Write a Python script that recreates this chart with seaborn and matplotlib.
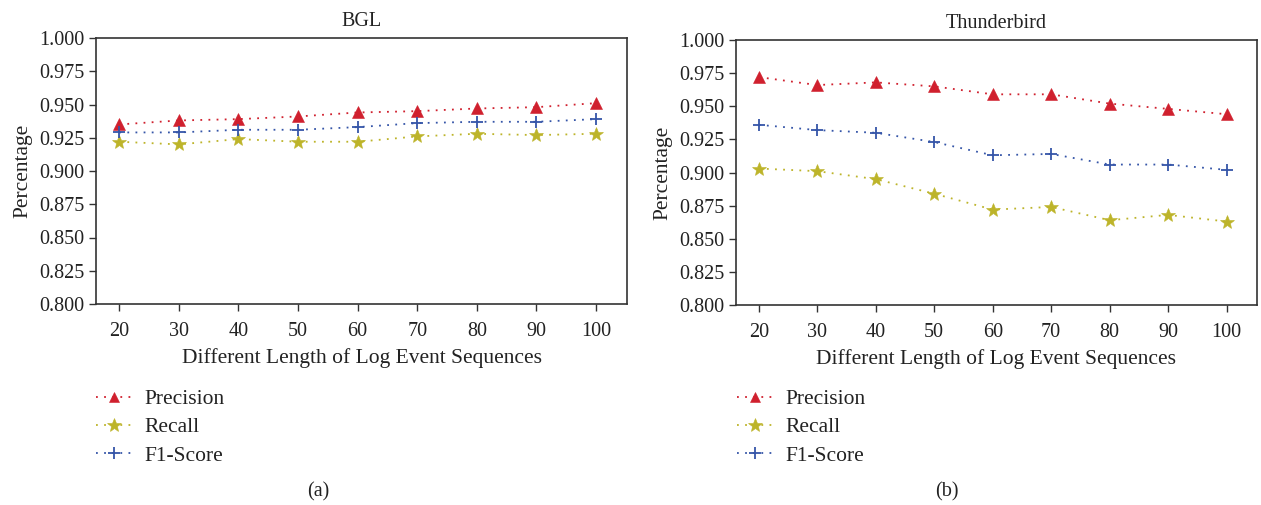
import matplotlib
matplotlib.use("Agg")
import matplotlib.pyplot as plt
import seaborn as sns
import pandas as pd
from matplotlib.lines import Line2D

lengths = [20, 30, 40, 50, 60, 70, 80, 90, 100]

bgl_precision = [0.935, 0.938, 0.939, 0.941, 0.944, 0.945, 0.947, 0.948, 0.951]
bgl_recall = [0.922, 0.920, 0.924, 0.922, 0.922, 0.926, 0.928, 0.927, 0.928]
bgl_f1 = [0.929, 0.929, 0.931, 0.931, 0.933, 0.936, 0.937, 0.937, 0.939]

tb_precision = [0.972, 0.966, 0.968, 0.965, 0.959, 0.959, 0.952, 0.948, 0.944]
tb_recall = [0.903, 0.901, 0.895, 0.884, 0.872, 0.874, 0.864, 0.868, 0.863]
tb_f1 = [0.936, 0.932, 0.930, 0.923, 0.913, 0.914, 0.906, 0.906, 0.902]

series_names = ["Precision", "Recall", "F1-Score"]
titles = ["BGL", "Thunderbird"]
captions = ["(a)", "(b)"]
y_ticks = [0.800, 0.825, 0.850, 0.875, 0.900, 0.925, 0.950, 0.975, 1.000]

colors = {"Precision": "#d0202e", "Recall": "#bdb42a", "F1-Score": "#3555a8"}
markers = {"Precision": "^", "Recall": "*", "F1-Score": "+"}
msizes = {"Precision": 8, "Recall": 10.5, "F1-Score": 8.5}
mews = {"Precision": 0.4, "Recall": 0.4, "F1-Score": 1.3}
DOTS = (1, 3.5)

sns.set_theme(style="white")
plt.rcParams["font.family"] = ["Liberation Serif", "DejaVu Serif"]
plt.rcParams["axes.edgecolor"] = "#333333"

fig = plt.figure(figsize=(12.61, 5.05), dpi=100)
ax1 = fig.add_axes([96 / 1261, 1 - 304 / 505, 531 / 1261, 266 / 505])
ax2 = fig.add_axes([736 / 1261, 1 - 305 / 505, 521 / 1261, 265 / 505])

datasets = [
    (ax1, [bgl_precision, bgl_recall, bgl_f1]),
    (ax2, [tb_precision, tb_recall, tb_f1]),
]

for i, (ax, vals) in enumerate(datasets):
    df = pd.DataFrame({"Length": lengths * 3,
                       "Value": vals[0] + vals[1] + vals[2],
                       "Metric": [n for n in series_names for _ in lengths]})
    for name in series_names:
        sub = df[df["Metric"] == name]
        sns.lineplot(data=sub, x="Length", y="Value", ax=ax, color=colors[name],
                     linewidth=1.3, dashes=DOTS, marker=markers[name],
                     markersize=msizes[name], markeredgewidth=mews[name],
                     markeredgecolor=colors[name], legend=False)
        for ln in ax.lines[-1:]:
            ln.set_dashes(DOTS)
    ax.set_xlim(16.1, 105.2)
    ax.set_ylim(0.8, 1.0)
    ax.set_xticks(lengths)
    ax.set_yticks(y_ticks)
    ax.set_yticklabels([f"{t:.3f}" for t in y_ticks])
    ax.tick_params(axis="both", direction="out", length=5, width=1, colors="#333333",
                   labelsize=14.5, labelcolor="#222222", bottom=True, left=True)
    ax.tick_params(axis="x", pad=8)
    ax.set_xlabel("Different Length of Log Event Sequences", fontsize=15.5, color="#222222", labelpad=5)
    ax.set_ylabel("Percentage", fontsize=15.5, color="#222222", labelpad=5)
    ax.set_title(titles[i], fontsize=14.5, color="#222222", pad=9)
    for sp in ax.spines.values():
        sp.set_visible(True)
        sp.set_linewidth(1.2)
        sp.set_color("#333333")

    handles = [Line2D([0], [0], color=colors[n], linewidth=1.3, dashes=DOTS,
                      marker=markers[n], markersize=msizes[n] - 0.5,
                      markeredgewidth=mews[n], markeredgecolor=colors[n]) for n in series_names]
    bx = 96 / 1261 if i == 0 else 737 / 1261
    fig.legend(handles, series_names, loc="upper left", bbox_to_anchor=(bx, 1 - 389 / 505),
               frameon=False, fontsize=15.5, handlelength=1.7, handletextpad=0.55,
               labelspacing=0.38, borderpad=0, borderaxespad=0, labelcolor="#222222")
    cx = 318 / 1261 if i == 0 else 947 / 1261
    fig.text(cx, 1 - 492 / 505, captions[i], ha="center", va="center", fontsize=14.5, color="#222222")

fig.savefig("out.png", dpi=100)
